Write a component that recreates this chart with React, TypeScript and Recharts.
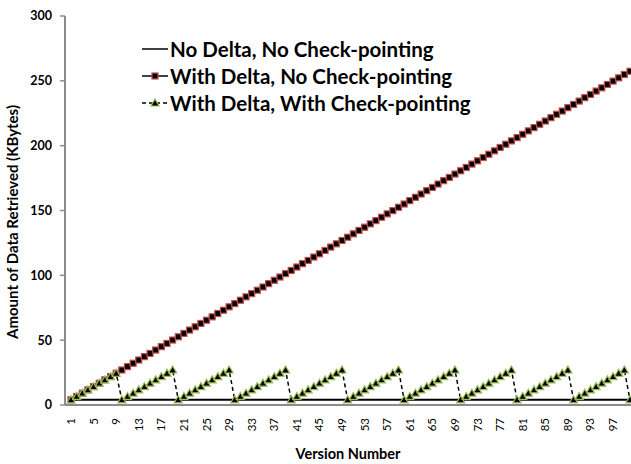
import { LineChart, Line, XAxis, YAxis, Legend } from 'recharts';

// version numbers on the x axis
const versions = [
  1, 2, 3, 4, 5, 6, 7, 8, 9, 10,
  11, 12, 13, 14, 15, 16, 17, 18, 19, 20,
  21, 22, 23, 24, 25, 26, 27, 28, 29, 30,
  31, 32, 33, 34, 35, 36, 37, 38, 39, 40,
  41, 42, 43, 44, 45, 46, 47, 48, 49, 50,
  51, 52, 53, 54, 55, 56, 57, 58, 59, 60,
  61, 62, 63, 64, 65, 66, 67, 68, 69, 70,
  71, 72, 73, 74, 75, 76, 77, 78, 79, 80,
  81, 82, 83, 84, 85, 86, 87, 88, 89, 90,
  91, 92, 93, 94, 95, 96, 97, 98, 99, 100,
];

// KBytes retrieved per version
const noDelta = [
  4, 4, 4, 4, 4, 4, 4, 4, 4, 4,
  4, 4, 4, 4, 4, 4, 4, 4, 4, 4,
  4, 4, 4, 4, 4, 4, 4, 4, 4, 4,
  4, 4, 4, 4, 4, 4, 4, 4, 4, 4,
  4, 4, 4, 4, 4, 4, 4, 4, 4, 4,
  4, 4, 4, 4, 4, 4, 4, 4, 4, 4,
  4, 4, 4, 4, 4, 4, 4, 4, 4, 4,
  4, 4, 4, 4, 4, 4, 4, 4, 4, 4,
  4, 4, 4, 4, 4, 4, 4, 4, 4, 4,
  4, 4, 4, 4, 4, 4, 4, 4, 4, 4,
];

const withDelta = [
  4.0, 6.6, 9.1, 11.7, 14.2, 16.8, 19.4, 21.9, 24.5, 27.0,
  29.6, 32.2, 34.7, 37.3, 39.8, 42.4, 45.0, 47.5, 50.1, 52.6,
  55.2, 57.8, 60.3, 62.9, 65.4, 68.0, 70.6, 73.1, 75.7, 78.2,
  80.8, 83.4, 85.9, 88.5, 91.0, 93.6, 96.2, 98.7, 101.3, 103.8,
  106.4, 109.0, 111.5, 114.1, 116.6, 119.2, 121.8, 124.3, 126.9, 129.4,
  132.0, 134.6, 137.1, 139.7, 142.2, 144.8, 147.4, 149.9, 152.5, 155.0,
  157.6, 160.2, 162.7, 165.3, 167.8, 170.4, 173.0, 175.5, 178.1, 180.6,
  183.2, 185.8, 188.3, 190.9, 193.4, 196.0, 198.6, 201.1, 203.7, 206.2,
  208.8, 211.4, 213.9, 216.5, 219.0, 221.6, 224.2, 226.7, 229.3, 231.8,
  234.4, 237.0, 239.5, 242.1, 244.6, 247.2, 249.8, 252.3, 254.9, 257.4,
];

// checkpoint every 10 versions resets the chain
const withCheckpoint = [
  4.0, 6.6, 9.1, 11.7, 14.2, 16.8, 19.4, 21.9, 24.5,
  4.0, 6.6, 9.1, 11.7, 14.2, 16.8, 19.4, 21.9, 24.5, 27.0,
  4.0, 6.6, 9.1, 11.7, 14.2, 16.8, 19.4, 21.9, 24.5, 27.0,
  4.0, 6.6, 9.1, 11.7, 14.2, 16.8, 19.4, 21.9, 24.5, 27.0,
  4.0, 6.6, 9.1, 11.7, 14.2, 16.8, 19.4, 21.9, 24.5, 27.0,
  4.0, 6.6, 9.1, 11.7, 14.2, 16.8, 19.4, 21.9, 24.5, 27.0,
  4.0, 6.6, 9.1, 11.7, 14.2, 16.8, 19.4, 21.9, 24.5, 27.0,
  4.0, 6.6, 9.1, 11.7, 14.2, 16.8, 19.4, 21.9, 24.5, 27.0,
  4.0, 6.6, 9.1, 11.7, 14.2, 16.8, 19.4, 21.9, 24.5, 27.0,
  4.0, 6.6, 9.1, 11.7, 14.2, 16.8, 19.4, 21.9, 24.5, 27.0,
  4.0,
];

const yTicks = [0, 50, 100, 150, 200, 250, 300];

const seriesNames = [
  'No Delta, No Check-pointing',
  'With Delta, No Check-pointing',
  'With Delta, With Check-pointing',
];

const data = versions.map((v, i) => ({
  version: v,
  noDelta: noDelta[i],
  withDelta: withDelta[i],
  withCheckpoint: withCheckpoint[i],
}));

const FONT = "Lato, 'Open Sans', sans-serif";
const AXIS_GREY = '#8c8c8c';
const RED = '#c0504d';
const GREEN = '#9bbb59';
const PLOT_BOTTOM = 405;

const SquareDot = (props: any) => {
  const { cx, cy, index } = props;
  if (cx == null || cy == null) return <g key={`sq-${index}`} />;
  return (
    <rect key={`sq-${index}`} x={cx - 3} y={cy - 3} width={6} height={6}
      fill="#000" stroke={RED} strokeWidth={1.2} />
  );
};

const TriangleDot = (props: any) => {
  const { cx, cy, index } = props;
  if (cx == null || cy == null) return <g key={`tr-${index}`} />;
  const pts = `${cx},${cy - 4} ${cx + 4},${cy + 3} ${cx - 4},${cy + 3}`;
  return <polygon key={`tr-${index}`} points={pts} fill="#000" stroke={GREEN} strokeWidth={1.2} />;
};

const VersionTick = (props: any) => {
  const { x, payload } = props;
  const y = PLOT_BOTTOM + 13;
  return (
    <text x={x} y={y} transform={`rotate(-90, ${x}, ${y})`} textAnchor="end" dy="0.35em"
      fontSize={11.5} fontFamily={FONT} fill="#000">
      {payload.value}
    </text>
  );
};

const YTitle = () => (
  <text x={13} y={222} transform="rotate(-90, 13, 222)" textAnchor="middle" dy="0.35em"
    fontSize={15} fontWeight={700} fontFamily={FONT} fill="#000">
    Amount of Data Retrieved (KBytes)
  </text>
);

const LegendSymbol = ({ kind }: { kind: number }) => (
  <svg width={28} height={14} style={{ display: 'block' }}>
    <line x1={0} y1={7} x2={26} y2={7} stroke="#000" strokeWidth={1.5}
      strokeDasharray={kind === 2 ? '4 3' : undefined} />
    {kind === 1 && <rect x={10} y={4} width={6} height={6} fill="#000" stroke={RED} strokeWidth={1.2} />}
    {kind === 2 && <polygon points="13,3 17,10 9,10" fill="#000" stroke={GREEN} strokeWidth={1.2} />}
  </svg>
);

const renderLegend = () => (
  <div style={{ fontFamily: FONT, fontWeight: 700, fontSize: 20.5, color: '#000' }}>
    {seriesNames.map((name, i) => (
      <div key={name} style={{ display: 'flex', alignItems: 'center', height: 27 }}>
        <LegendSymbol kind={i} />
        <span style={{ marginLeft: 0, whiteSpace: 'nowrap' }}>{name}</span>
      </div>
    ))}
  </div>
);

export default function App() {
  return (
    <div style={{ position: 'absolute', left: 0, top: 0, background: '#fff' }}>
      <LineChart width={631} height={464} data={data}
        margin={{ top: 16, right: 0, left: 15, bottom: 0 }}>
        <XAxis
          dataKey="version"
          interval={3}
          height={59}
          padding={{ left: 6, right: 1 }}
          tickLine={false}
          axisLine={{ stroke: AXIS_GREY, strokeWidth: 2 }}
          tick={<VersionTick />}
          label={{
            value: 'Version Number',
            position: 'insideBottom',
            offset: 5,
            style: { fontFamily: FONT, fontSize: 14.5, fontWeight: 700, fill: '#000' },
          }}
        />
        <YAxis
          domain={[0, 300]}
          ticks={yTicks}
          width={50}
          tickSize={5}
          tickMargin={8}
          axisLine={{ stroke: AXIS_GREY, strokeWidth: 2 }}
          tickLine={{ stroke: AXIS_GREY, strokeWidth: 1.5 }}
          tick={{ fontFamily: FONT, fontSize: 12.5, fontWeight: 700, fill: '#000' }}
          label={YTitle}
        />
        <Legend
          content={renderLegend}
          layout="vertical"
          align="center"
          verticalAlign="middle"
          wrapperStyle={{ left: 142, top: 35, width: 400, height: 81 }}
        />
        <Line name={seriesNames[0]} dataKey="noDelta" stroke="#000" strokeWidth={2}
          dot={false} activeDot={false} isAnimationActive={false} />
        <Line name={seriesNames[1]} dataKey="withDelta" stroke="#000" strokeWidth={1}
          dot={SquareDot} activeDot={false} isAnimationActive={false} />
        <Line name={seriesNames[2]} dataKey="withCheckpoint" stroke="#000" strokeWidth={1.5}
          strokeDasharray="4 3" dot={TriangleDot} activeDot={false} isAnimationActive={false} />
      </LineChart>
    </div>
  );
}
